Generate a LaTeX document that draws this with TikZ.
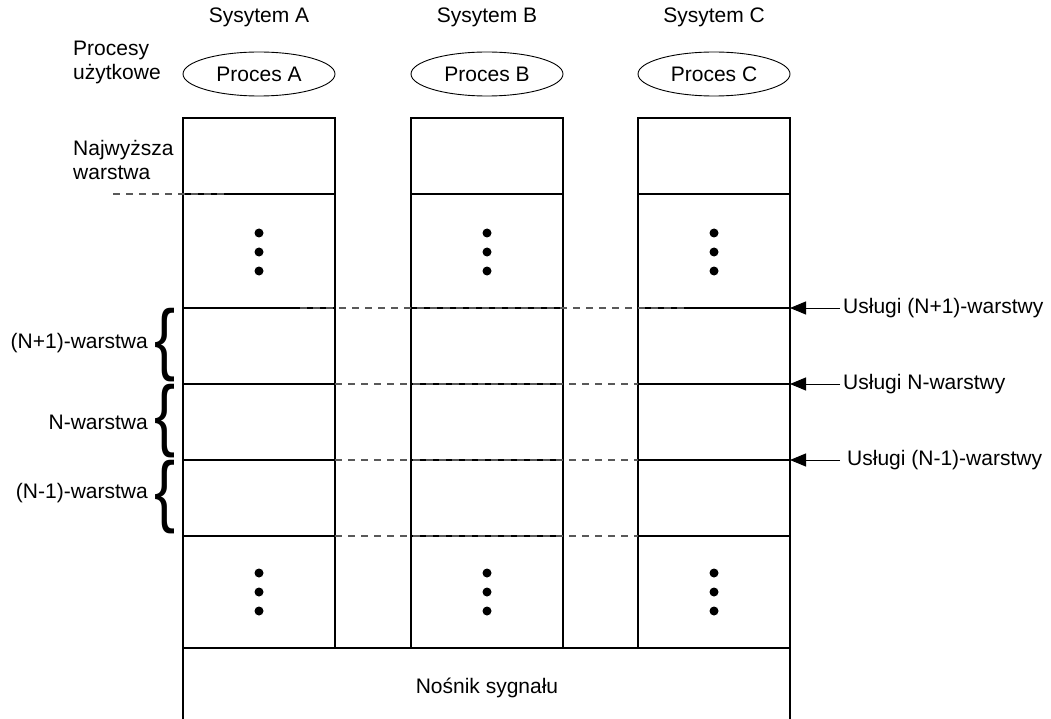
\documentclass[tikz,border=0pt]{standalone}
\usepackage{fontspec}
\setmainfont{Liberation Sans}
\usetikzlibrary{shapes.geometric,arrows.meta}

\begin{document}
\begin{tikzpicture}[x=1pt,y=-1pt,
  every node/.style={font=\fontsize{21}{24}\selectfont, inner sep=0pt},
  cell/.style={draw=black, line width=1.3pt, minimum width=152pt, anchor=north west, outer sep=0pt},
  proc/.style={draw, ellipse, line width=0.9pt, minimum width=152pt, minimum height=44pt},
  sepline/.style={draw=black!65, line width=1.4pt, dash pattern=on 7pt off 6pt},
  bracket/.style={font=\fontsize{79}{79}\selectfont, xscale=0.8},
  arr/.style={-{Triangle[length=16pt,width=13pt]}, line width=1pt}]
  \useasboundingbox (0,0) rectangle (1051,719);

  % protocol stacks of the three systems
  \foreach \c/\x in {A/183,B/411,C/638}{
    \node[cell, minimum height=76pt]  (\c1) at (\x,118) {};
    \node[cell, minimum height=114pt] (\c2) at (\x,194) {};
    \node[cell, minimum height=76pt]  (\c3) at (\x,308) {};
    \node[cell, minimum height=76pt]  (\c4) at (\x,384) {};
    \node[cell, minimum height=76pt]  (\c5) at (\x,460) {};
    \node[cell, minimum height=112pt] (\c6) at (\x,536) {};
    \foreach \y in {233,252,271,573,592,611}
      \fill (\x+76,\y) circle (4.5pt);
  }

  % dashed layer boundaries
  \draw[sepline] (113,194) -- (225,194);
  \draw[sepline] (300,308) -- (690,308);
  \foreach \y in {384,460,536}
    \draw[sepline] (335,\y) -- (638,\y);

  % system headers and user processes
  \node (sA) at (259,17) {Sysytem A};
  \node (sB) at (487,17) {Sysytem B};
  \node (sC) at (714,17) {Sysytem C};
  \node[proc] (pA) at (259,74) {Proces A};
  \node[proc] (pB) at (487,74) {Proces B};
  \node[proc] (pC) at (714,74) {Proces C};

  \node[anchor=west, align=left] (user) at (73,62) {Procesy\\użytkowe};
  \node[anchor=west, align=left] (top) at (73,160) {Najwyższa\\warstwa};

  % signal medium
  \draw[line width=1.3pt] (183,722) -- (183,648) -- (790,648) -- (790,722);
  \node (medium) at (487,688) {Nośnik sygnału};

  % layer braces
  \node[bracket] (bN1) at (165,345) {\{};
  \node[bracket] (bN)  at (165,421) {\{};
  \node[bracket] (bN0) at (165,497) {\{};
  \node[anchor=east] (lN1) at (148,343) {(N+1)-warstwa};
  \node[anchor=east] (lN)  at (148,422) {N-warstwa};
  \node[anchor=east] (lN0) at (148,493) {(N-1)-warstwa};

  % services offered at the interfaces
  \node[anchor=west] (u1) at (843,308) {Usługi (N+1)-warstwy};
  \node[anchor=west] (u2) at (843,384) {Usługi N-warstwy};
  \node[anchor=west] (u3) at (847,460) {Usługi (N-1)-warstwy};
  \draw[arr] ([xshift=-3pt]u1.west) -- (C3.north east);
  \draw[arr] ([xshift=-3pt]u2.west) -- (C4.north east);
  \draw[arr] ([xshift=-7pt]u3.west) -- (C5.north east);
\end{tikzpicture}
\end{document}
